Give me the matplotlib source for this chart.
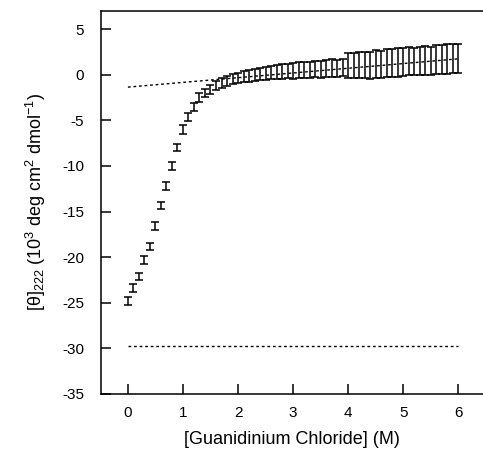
import matplotlib
matplotlib.use("Agg")
import matplotlib.pyplot as plt
import numpy as np

plt.rcParams['font.family'] = ['Liberation Sans', 'DejaVu Sans']
plt.rcParams['mathtext.default'] = 'regular'
plt.rcParams['axes.unicode_minus'] = False

# GdmCl concentration (M)
conc = [round(0.1 * i, 1) for i in range(61)]

# Mean residue ellipticity at 222 nm (10^3 deg cm^2 dmol^-1)
theta = [-24.8, -23.4, -22.1, -20.3, -18.8, -16.6, -14.3, -12.2, -10.0, -8.0,
         -6.0, -4.6, -3.5, -2.5, -2.0, -1.6, -1.2, -0.9, -0.7, -0.5,
         -0.35, -0.2, -0.1, 0.0, 0.1, 0.15, 0.25, 0.3, 0.35, 0.4,
         0.4, 0.5, 0.55, 0.5, 0.65, 0.6, 0.7, 0.75, 0.7, 0.8,
         1.0, 1.0, 1.05, 1.1, 1.0, 1.2, 1.15, 1.3, 1.3, 1.35,
         1.4, 1.5, 1.45, 1.5, 1.6, 1.55, 1.65, 1.7, 1.7, 1.75, 1.8]

theta_err = [0.4, 0.4, 0.4, 0.4, 0.4, 0.4, 0.4, 0.4, 0.4, 0.4,
             0.45, 0.45, 0.45, 0.5, 0.45, 0.5, 0.5, 0.5, 0.55, 0.55,
             0.6, 0.6, 0.65, 0.65, 0.7, 0.7, 0.75, 0.75, 0.8, 0.8,
             0.85, 0.85, 0.85, 0.9, 0.9, 0.9, 0.9, 0.95, 0.95, 0.95,
             1.4, 1.4, 1.45, 1.4, 1.45, 1.5, 1.45, 1.5, 1.5, 1.55,
             1.5, 1.55, 1.5, 1.55, 1.6, 1.55, 1.6, 1.6, 1.65, 1.6, 1.6]

# Unfolded-state baseline and native-state reference level
unfolded_x = [0.0, 6.0]
unfolded_y = [-1.35, 1.75]
native_x = [0.0, 6.0]
native_y = [-29.7, -29.7]

fig = plt.figure(figsize=(4.83, 4.58), dpi=100)
ax = fig.add_axes([0.209, 0.140, 0.791, 0.836])

ax.plot(unfolded_x, unfolded_y, color='black', lw=1.0, linestyle=(0, (2, 2)))
ax.plot(native_x, native_y, color='black', lw=1.0, linestyle=(0, (2, 2)))
ax.errorbar(conc, theta, yerr=theta_err, fmt='none', ecolor='black',
            elinewidth=1.1, capsize=3, capthick=1.1)

ax.set_xlim(-0.49, 6.45)
ax.set_ylim(-35, 7)
ax.set_xticks(range(0, 7))
ax.set_yticks(range(-35, 6, 5))

for s in ['top', 'bottom', 'left']:
    ax.spines[s].set_linewidth(1.1)
ax.spines['right'].set_visible(False)

ax.tick_params(direction='in', length=7, width=1.1, labelsize=11, pad=9)
ax.tick_params(axis='y', pad=12)

ax.set_xlabel('[Guanidinium Chloride] (M)', fontsize=13, labelpad=8)
ax.set_ylabel('[θ]$_{222}$ (10$^3$ deg cm$^2$ dmol$^{-1}$)', fontsize=13, labelpad=10)

fig.savefig('out.png', dpi=100)
